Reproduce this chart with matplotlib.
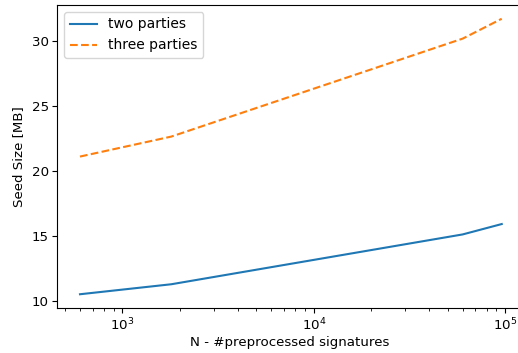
import numpy as np
import matplotlib
matplotlib.use("Agg")
import matplotlib.pyplot as plt

# number of preprocessed signatures
n_sigs = [600, 1800, 60000, 96000]
# seed size in MB
two_parties = [10.52, 11.29, 15.13, 15.93]
three_parties = [21.13, 22.67, 30.22, 31.75]

fig = plt.figure(figsize=(5.18, 3.53), dpi=100)
ax = fig.add_axes([57/518, 45/353, 466/518, 303/353])

ax.plot(n_sigs, two_parties, label='two parties')
ax.plot(n_sigs, three_parties, '--', label='three parties')
ax.set_xscale('log')
ax.set_xlim(455, 124000)
ax.set_ylim(9.46, 32.81)
ax.set_yticks([10, 15, 20, 25, 30])
ax.tick_params(axis='both', labelsize=9.6, pad=2.5)
ax.spines['right'].set_visible(False)
ax.set_xlabel("N - #preprocessed signatures", fontsize=9.6, labelpad=2)
ax.set_ylabel("Seed Size [MB]", fontsize=9.6, labelpad=5)
ax.legend(loc='upper left', fontsize=10)

fig.savefig("out.png", dpi=100)
